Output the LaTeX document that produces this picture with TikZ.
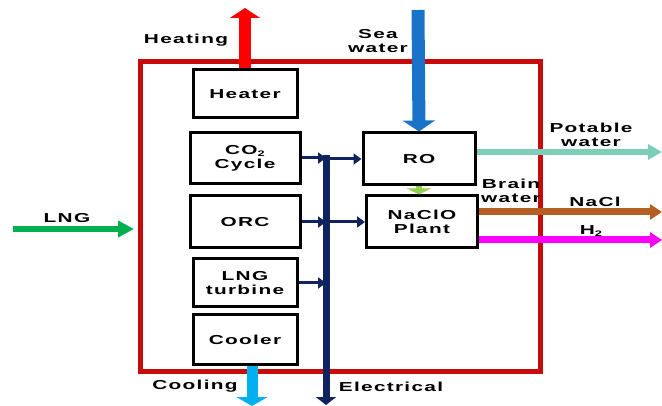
\documentclass[tikz,border=0pt]{standalone}
\usepackage{fontspec}
\setmainfont{Liberation Sans}[FakeStretch=1.6,LetterSpace=10]
\usetikzlibrary{arrows.meta}
\definecolor{frame}{RGB}{200,10,10}
\definecolor{heatred}{RGB}{255,0,0}
\definecolor{seablue}{RGB}{25,115,200}
\definecolor{lnggreen}{RGB}{0,176,80}
\definecolor{potable}{RGB}{125,205,185}
\definecolor{brine}{RGB}{146,208,80}
\definecolor{nacl}{RGB}{180,95,35}
\definecolor{htwo}{RGB}{255,0,255}
\definecolor{coolblue}{RGB}{0,176,240}
\definecolor{navy}{RGB}{15,35,95}
\newcommand{\lowtwo}{\raisebox{-0.35ex}{\fontsize{8}{8}\selectfont 2}}
\begin{document}
\begin{tikzpicture}[x=1pt,y=-1pt,
  every node/.style={font=\fontsize{13}{14}\selectfont\bfseries, align=center, inner sep=0pt},
  unit/.style={draw=black, line width=3pt, fill=white},
  elec/.style={navy, line width=3pt, -{Triangle[length=8pt,width=11pt]}},
]
\useasboundingbox (0,0) rectangle (662,406);
% frame
\draw[frame, line width=5pt] (140,62) rectangle (540,372);
% units
\node[unit, minimum width=104pt, minimum height=48pt] (heater) at (245,94) {Heater};
\node[unit, minimum width=110pt, minimum height=51pt] (co2) at (245,158) {CO\lowtwo\\Cycle};
\node[unit, minimum width=110pt, minimum height=52pt] (orc) at (245,222) {ORC};
\node[unit, minimum width=104pt, minimum height=48pt] (turb) at (245,283) {LNG\\turbine};
\node[unit, minimum width=104pt, minimum height=50pt] (cooler) at (245,340) {Cooler};
\node[unit, minimum width=112pt, minimum height=52pt] (ro) at (419,159) {RO};
\node[unit, minimum width=111pt, minimum height=52pt] (naclo) at (422,222) {NaClO\\Plant};
% coordinates
\coordinate (heattip) at (245,8);
\coordinate (seatail) at (418,10);
\coordinate (lngtail) at (13,229);
\coordinate (lngtip) at (134,229);
\coordinate (pottip) at (662,152);
\coordinate (nacltip) at (662,212);
\coordinate (h2tip) at (662,240);
\coordinate (cooltip) at (252,406);
\coordinate (bustop) at (326,155);
\coordinate (busbot) at (326,405);
% big arrows
\draw[heatred, line width=12pt, -{Triangle[length=10pt,width=30pt]}] (heater.north) -- (heattip);
\draw[seablue, line width=13pt, -{Triangle[length=11pt,width=32pt]}] (seatail) -- (ro.north);
\draw[lnggreen, line width=6pt, -{Triangle[length=16pt,width=16pt]}] (lngtail) -- (lngtip);
\draw[potable, line width=6pt, -{Triangle[length=14pt,width=15pt]}] (ro.east |- pottip) -- (pottip);
\draw[nacl, line width=7pt, -{Triangle[length=12pt,width=15pt]}] (naclo.east |- nacltip) -- (nacltip);
\draw[htwo, line width=7pt, -{Triangle[length=12pt,width=15pt]}] (naclo.east |- h2tip) -- (h2tip);
\draw[coolblue, line width=11pt, -{Triangle[length=9pt,width=31pt]}] (cooltip |- cooler.south) -- (cooltip);
\draw[brine, line width=6pt, -{Triangle[length=6pt,width=24pt]}] (ro.south) -- (naclo.north -| ro.south);
% electrical bus
\draw[navy, line width=7pt, -{Triangle[length=8pt,width=20pt]}] (bustop) -- (busbot);
\draw[elec] (co2.east) -- (co2.east -| bustop);
\draw[elec] (orc.east) -- (orc.east -| bustop);
\draw[elec] (turb.east) -- (turb.east -| bustop);
\draw[elec] (bustop |- ro.west) -- (ro.west);
\draw[elec] (bustop |- naclo.west) -- (naclo.west);
% labels
\node (lheat) at (186,40) {Heating};
\node (lsea) at (378,41) {Sea\\water};
\node (lpot) at (591,135) {Potable\\water};
\node (lbrain) at (511,191) {Brain\\water};
\node (lnacl) at (595,202) {NaCl};
\node (lh2) at (591,231) {H\lowtwo};
\node (llng) at (67,218) {LNG};
\node (lcool) at (195,386) {Cooling};
\node (lelec) at (391,387) {Electrical};
\end{tikzpicture}
\end{document}
